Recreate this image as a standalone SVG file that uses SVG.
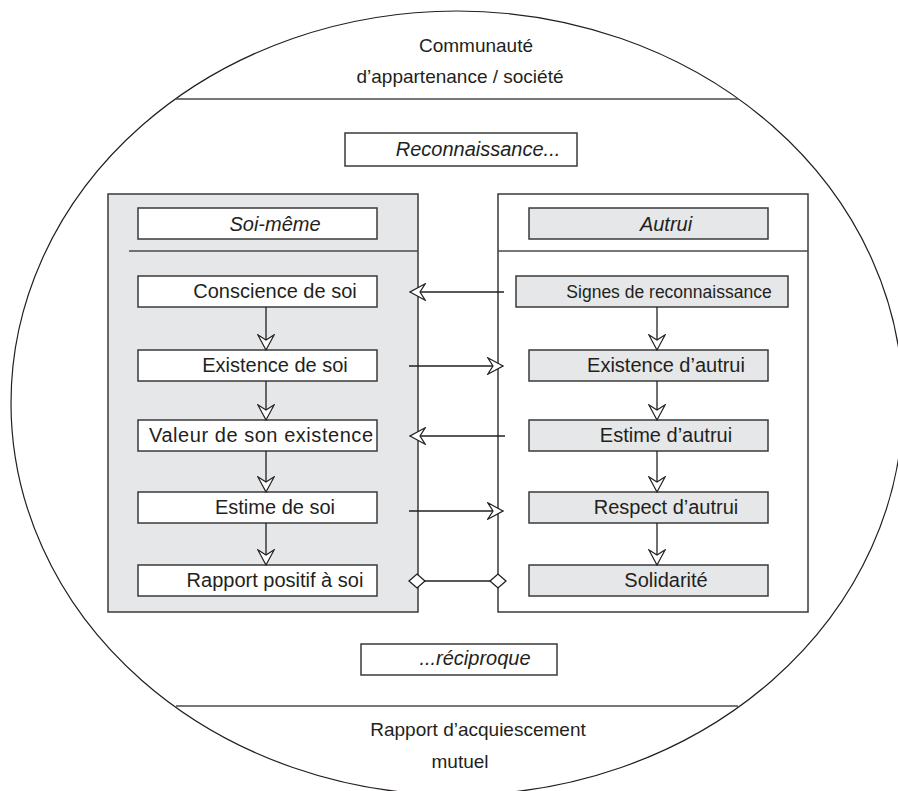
<svg xmlns="http://www.w3.org/2000/svg" width="898" height="791" viewBox="0 0 898 791">
  <style>
    .t { font-family: "Liberation Sans", Arial, sans-serif; font-size: 20px; fill: #231f20; text-anchor: middle; }
    .big { font-size: 19px; }
    .it { font-style: italic; }
    .sm { font-size: 17.5px; }
    .box { stroke: #3a3a3a; stroke-width: 1.5; }
    .w { fill: #ffffff; }
    .g { fill: #e6e7e8; }
    .panel { stroke: #3a3a3a; stroke-width: 1.5; }
    .sep { stroke: #4a4a4a; stroke-width: 1.6; fill: none; }
    .c { stroke: #231f20; stroke-width: 1.3; fill: none; }
    .dia { fill: #ffffff; stroke: #231f20; stroke-width: 1.3; }
  </style>
  <defs>
    <marker id="arr" markerUnits="userSpaceOnUse" viewBox="0 0 17 18" markerWidth="17" markerHeight="18" refX="16" refY="9" orient="auto">
      <path d="M16,9 L0.8,0.8 L6,9 L0.8,17.2 Z" fill="#ffffff" stroke="#231f20" stroke-width="1.2" stroke-linejoin="miter"/>
    </marker>
  </defs>
  <rect width="898" height="791" fill="#ffffff"/>

  <g id="society">
    <ellipse cx="457" cy="403" rx="446" ry="392" fill="none" stroke="#231f20" stroke-width="1.2"/>
    <line class="sep" x1="176" y1="99" x2="738" y2="99"/>
    <line class="sep" x1="176" y1="706" x2="738" y2="706"/>
    <text class="t big" x="476" y="52">Communauté</text>
    <text class="t big" x="460" y="83">d’appartenance / société</text>
    <text class="t big" x="478" y="736">Rapport d’acquiescement</text>
    <text class="t big" x="460" y="768">mutuel</text>
  </g>

  <g id="reconnaissance">
    <rect class="box w" x="345" y="133" width="232" height="33"/>
    <text class="t it" x="478" y="156">Reconnaissance...</text>
  </g>

  <g id="reciproque">
    <rect class="box w" x="361" y="644" width="196" height="31"/>
    <text class="t it" x="475" y="665">...réciproque</text>
  </g>

  <g id="panel-soi">
    <rect class="panel g" x="108" y="194" width="310" height="418"/>
    <line class="sep" x1="129" y1="251" x2="418" y2="251"/>
  </g>
  <g id="panel-autrui">
    <rect class="panel w" x="498" y="194" width="310" height="418"/>
    <line class="sep" x1="498" y1="251" x2="808" y2="251"/>
  </g>

  <g id="soi-meme">
    <rect class="box w" x="138" y="208" width="239" height="31"/>
    <text class="t it" x="275" y="231">Soi-même</text>
  </g>
  <g id="autrui">
    <rect class="box g" x="529" y="208" width="239" height="31"/>
    <text class="t it" x="666" y="231">Autrui</text>
  </g>

  <g id="conscience">
    <rect class="box w" x="138" y="276" width="239" height="31"/>
    <text class="t" x="275" y="298">Conscience de soi</text>
  </g>
  <g id="existence-soi">
    <rect class="box w" x="138" y="350" width="239" height="31"/>
    <text class="t" x="275" y="372">Existence de soi</text>
  </g>
  <g id="valeur">
    <rect class="box w" x="138" y="420" width="239" height="31"/>
    <text class="t" x="261" y="442" textLength="224">Valeur de son existence</text>
  </g>
  <g id="estime-soi">
    <rect class="box w" x="138" y="492" width="239" height="31"/>
    <text class="t" x="275" y="514">Estime de soi</text>
  </g>
  <g id="rapport">
    <rect class="box w" x="138" y="565" width="239" height="31"/>
    <text class="t" x="275" y="587">Rapport positif à soi</text>
  </g>

  <g id="signes">
    <rect class="box g" x="516" y="276" width="272" height="31"/>
    <text class="t sm" x="669" y="298">Signes de reconnaissance</text>
  </g>
  <g id="existence-autrui">
    <rect class="box g" x="529" y="350" width="239" height="31"/>
    <text class="t" x="666" y="372">Existence d’autrui</text>
  </g>
  <g id="estime-autrui">
    <rect class="box g" x="529" y="420" width="239" height="31"/>
    <text class="t" x="666" y="442">Estime d’autrui</text>
  </g>
  <g id="respect">
    <rect class="box g" x="529" y="492" width="239" height="31"/>
    <text class="t" x="666" y="514">Respect d’autrui</text>
  </g>
  <g id="solidarite">
    <rect class="box g" x="529" y="565" width="239" height="31"/>
    <text class="t" x="666" y="587">Solidarité</text>
  </g>

  <g id="connectors">
    <line class="c" x1="266" y1="307" x2="266" y2="350" marker-end="url(#arr)"/>
    <line class="c" x1="266" y1="381" x2="266" y2="420" marker-end="url(#arr)"/>
    <line class="c" x1="266" y1="451" x2="266" y2="492" marker-end="url(#arr)"/>
    <line class="c" x1="266" y1="523" x2="266" y2="565" marker-end="url(#arr)"/>
    <line class="c" x1="657" y1="307" x2="657" y2="350" marker-end="url(#arr)"/>
    <line class="c" x1="657" y1="381" x2="657" y2="420" marker-end="url(#arr)"/>
    <line class="c" x1="657" y1="451" x2="657" y2="492" marker-end="url(#arr)"/>
    <line class="c" x1="657" y1="523" x2="657" y2="565" marker-end="url(#arr)"/>
    <line class="c" x1="504" y1="292" x2="410" y2="292" marker-end="url(#arr)"/>
    <line class="c" x1="409" y1="366" x2="503" y2="366" marker-end="url(#arr)"/>
    <line class="c" x1="505" y1="436" x2="410" y2="436" marker-end="url(#arr)"/>
    <line class="c" x1="409" y1="511" x2="503" y2="511" marker-end="url(#arr)"/>
    <line class="c" x1="417" y1="581" x2="498" y2="581"/>
    <path class="dia" d="M409,581 L417,574 L425,581 L417,588 Z"/>
    <path class="dia" d="M490,581 L498,574 L506,581 L498,588 Z"/>
  </g>
</svg>
